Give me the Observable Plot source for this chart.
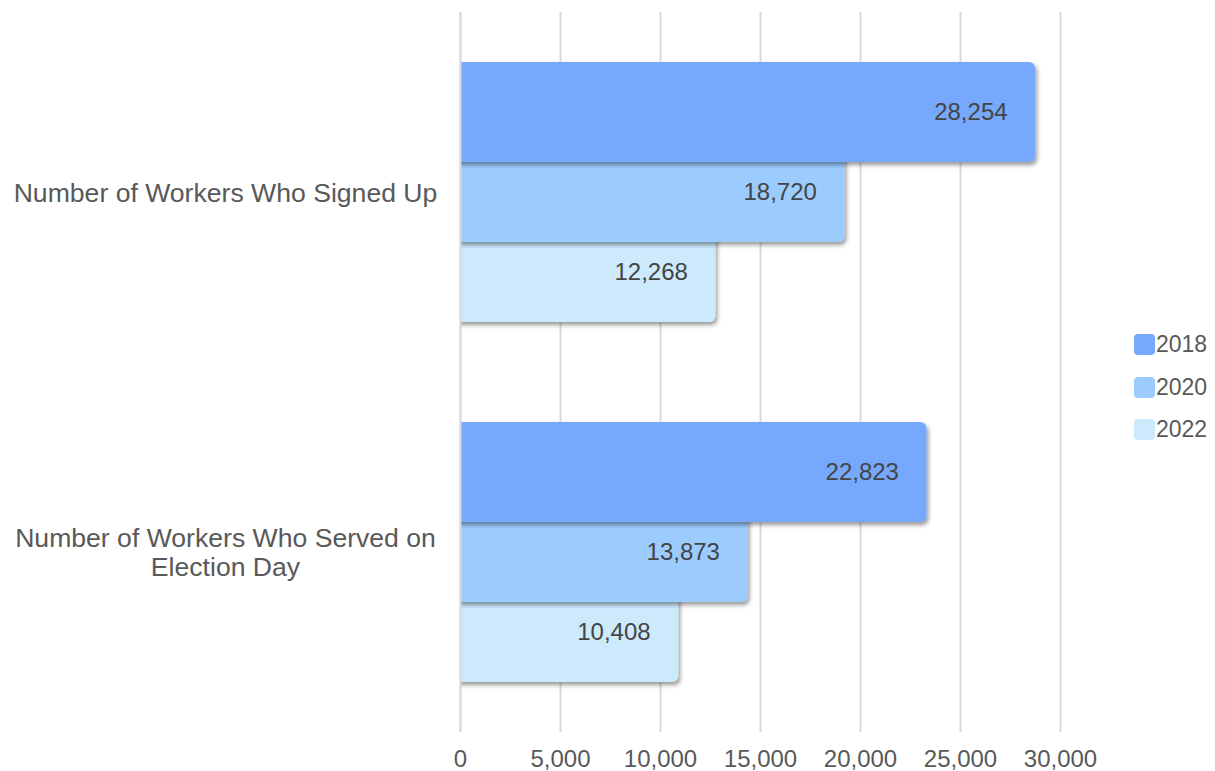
<!DOCTYPE html>
<html>
<head>
<meta charset="utf-8">
<script src="https://cdn.jsdelivr.net/npm/d3@7"></script>
<script src="https://cdn.jsdelivr.net/npm/@observablehq/plot@0.6"></script>
<style>
  body { margin: 0; background: #fff; font-family: "Liberation Sans", Arial, sans-serif; }
  #wrap { position: relative; width: 1215px; height: 771px; }
  #legend { position: absolute; left: 1134px; top: 334px; }
  .lg-row { display: flex; align-items: center; height: 21px; margin-bottom: 21.5px; }
  .lg-sw { width: 21px; height: 21px; border-radius: 4px; margin-right: 1px; }
  .lg-tx { font-size: 23px; color: #595959; line-height: 1; }
</style>
</head>
<body>
<div id="wrap"><div id="chart"></div><div id="legend"></div></div>
<script>
const groups = ["Number of Workers Who Signed Up", "Number of Workers Who Served on Election Day"];
const groupLabels = ["Number of Workers Who Signed Up", "Number of Workers Who Served on\nElection Day"];
const years = ["2018", "2020", "2022"];
const signedUp = [28254, 18720, 12268];
const servedOnElectionDay = [22823, 13873, 10408];
const colors = ["#76a9fd", "#9ccbfe", "#cdeafd"];
const xTicks = [0, 5000, 10000, 15000, 20000, 25000, 30000];

const seriesByGroup = [signedUp, servedOnElectionDay];
const data = [];
groups.forEach((g, gi) => {
  for (let yi = years.length - 1; yi >= 0; yi--) {
    data.push({group: g, year: years[yi], value: seriesByGroup[gi][yi]});
  }
});
const fmt = d3.format(",");

const chart = Plot.plot({
  width: 1215,
  height: 771,
  marginLeft: 460,
  marginRight: 155,
  marginTop: 12,
  marginBottom: 39,
  style: {fontFamily: "'Liberation Sans', Arial, sans-serif", background: "white", overflow: "visible"},
  x: {domain: [0, 30000], axis: null},
  y: {domain: years, axis: null, paddingInner: 0, paddingOuter: 0.75},
  fy: {domain: groups, padding: 0, axis: null},
  color: {domain: years, range: colors},
  marks: [
    Plot.gridX(xTicks, {stroke: "#d9d9d9", strokeOpacity: 1, strokeWidth: 2}),
    Plot.barX(data, {x: "value", y: "year", fy: "group", fill: "year", rx: 6,
      insetTop: -10, insetBottom: -10, insetRight: -10, insetLeft: -12, clip: true}),
    Plot.ruleX([0], {stroke: "#d9d9d9", strokeWidth: 2}),
    Plot.text(data, {x: "value", y: "year", fy: "group", text: d => fmt(d.value),
      textAnchor: "end", dx: -18, fontSize: 24, fill: "#444"}),
    Plot.axisX(xTicks, {anchor: "bottom", tickSize: 0, tickPadding: 17, fontSize: 24,
      fill: "#595959", tickFormat: fmt, label: null}),
    Plot.axisFy({anchor: "left", tickSize: 0, tickPadding: 235, textAnchor: "middle",
      fontSize: 26.6, lineHeight: 1.08, fill: "#595959", label: null,
      tickFormat: d => groupLabels[groups.indexOf(d)]})
  ]
});

// drop shadow on bars
const svg = d3.select(chart);
const defs = svg.insert("defs", ":first-child");
const f = defs.append("filter").attr("id", "barShadow")
  .attr("x", "-10%").attr("y", "-20%").attr("width", "130%").attr("height", "160%");
f.append("feDropShadow").attr("dx", 2).attr("dy", 3).attr("stdDeviation", 2)
  .attr("flood-color", "#000").attr("flood-opacity", 0.4);
svg.selectAll('g[aria-label="bar"] rect').attr("filter", "url(#barShadow)");

document.getElementById("chart").appendChild(chart);

const legend = d3.select("#legend");
years.forEach((y, i) => {
  const row = legend.append("div").attr("class", "lg-row");
  row.append("div").attr("class", "lg-sw").style("background", colors[i]);
  row.append("div").attr("class", "lg-tx").text(y);
});
</script>
</body>
</html>
